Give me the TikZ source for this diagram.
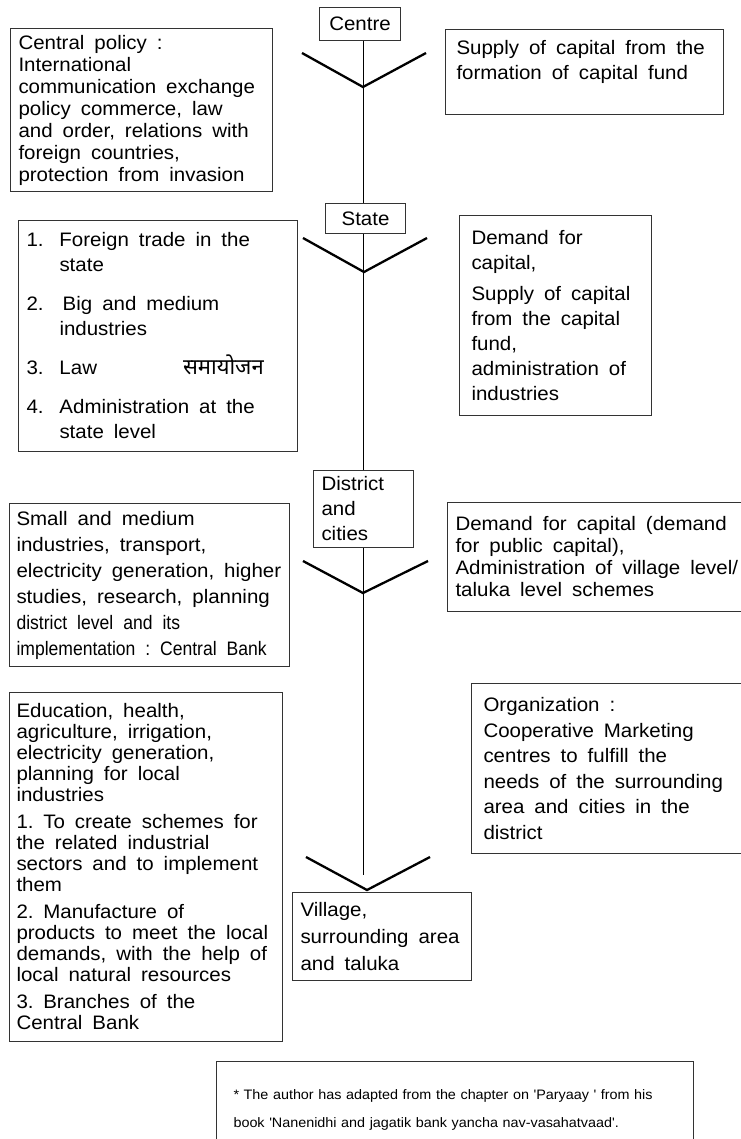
\documentclass[tikz,border=0pt]{standalone}
\usepackage{fontspec}
\setmainfont{Liberation Sans}[FakeStretch=1.05]
\newfontfamily\narrowfont{Liberation Sans}[FakeStretch=0.9]
\newfontfamily\devafont[Script=Devanagari]{Noto Sans}
\usepackage{tikz}
\usetikzlibrary{positioning, calc}
\newcommand{\itemno}[1]{\makebox[33pt][l]{#1}}
\newcommand{\hang}{\hspace*{33pt}}
\newcommand{\widesp}{\spaceskip=10pt plus 1pt minus 1pt\relax}

\begin{document}
\begin{tikzpicture}[x=1pt, y=-1pt,
    box/.style={draw=black!80, line width=1pt, fill=white, anchor=north west,
                inner xsep=8pt, inner ysep=0pt, align=left},
    lh/.style={font=\fontsize{19.5}{#1}\selectfont, execute at begin node=\widesp},
    spine/.style={line width=0.8pt},
    varm/.style={line width=2.3pt},
  ]

  \useasboundingbox (0,0) rectangle (740,1139);

  % --- points on the spine ---
  \coordinate (v1) at (363,87);
  \coordinate (v2) at (364,272);
  \coordinate (v3) at (363,593);
  \coordinate (v4) at (367,890);
  \coordinate (spineend) at (363,875);

  % --- Centre ---
  \node[box, lh=22, align=center, minimum width=81pt, minimum height=33pt] (centre) at (319,7) {Centre};
  \node[box, lh=22, text width=246pt, minimum height=163pt] (cpol) at (10,28)
    {Central policy :\\
     International\\
     communication exchange\\
     policy commerce, law\\
     and order, relations with\\
     foreign countries,\\
     protection from invasion};
  \node[box, lh=25, inner xsep=11pt, text width=256pt, minimum height=85pt] (ccap) at (445,29)
    {Supply of capital from the\\
     formation of capital fund\\
     \mbox{}};

  % --- State ---
  \node[box, lh=22, align=center, minimum width=80pt, minimum height=30pt] (state) at (325,203) {State};
  \node[box, lh=25, text width=263pt, minimum height=231pt] (spol) at (18,220)
    {\itemno{1.}Foreign trade in the\\ \hang state\\[14pt]
     \itemno{2.}\,Big and medium\\ \hang industries\\[14pt]
     \itemno{3.}Law\hspace*{86pt}{\devafont\fontsize{22}{25}\selectfont समायोजन}\\[14pt]
     \itemno{4.}Administration at the\\ \hang state level};
  \node[box, lh=25, inner xsep=12pt, text width=168pt, minimum height=200pt] (scap) at (459,215)
    {Demand for\\
     capital,\\[6pt]
     Supply of capital\\
     from the capital\\
     fund,\\
     administration of\\
     industries};

  % --- District and cities ---
  \node[box, lh=25, text width=84pt, minimum height=77pt] (district) at (313,470)
    {District\\ and\\ cities};
  \node[box, lh=26, inner xsep=7pt, text width=266pt, minimum height=163pt] (dpol) at (9,503)
    {Small and medium\\
     industries, transport,\\
     electricity generation, higher\\
     studies, research, planning\\
     {\narrowfont district level and its}\\
     {\narrowfont implementation : Central Bank}};
  \node[box, lh=22, text width=290pt, minimum height=109pt] (dcap) at (447,502)
    {Demand for capital (demand\\
     for public capital),\\
     Administration of village level/\\
     taluka level schemes};

  % --- Village ---
  \node[box, lh=21, inner xsep=7pt, text width=259pt, minimum height=349pt] (vpol) at (9,692)
    {Education, health,\\
     agriculture, irrigation,\\
     electricity generation,\\
     planning for local\\
     industries\\[6pt]
     1. To create schemes for\\
     the related industrial\\
     sectors and to implement\\
     them\\[6pt]
     2. Manufacture of\\
     products to meet the local\\
     demands, with the help of\\
     local natural resources\\[6pt]
     3. Branches of the\\
     Central Bank};
  \node[box, lh=25.5, inner xsep=12pt, text width=262pt, minimum height=170pt] (vorg) at (471,683)
    {Organization :\\
     Cooperative Marketing\\
     centres to fulfill the\\
     needs of the surrounding\\
     area and cities in the\\
     district};
  \node[box, lh=27, text width=163pt, minimum height=88pt] (village) at (292,892)
    {Village,\\ surrounding area\\ and taluka};

  % --- spine and the V marks ---
  \draw[spine] (v1 |- centre.south) -- (v1 |- state.north);
  \draw[spine] (v1 |- state.south) -- (v1 |- district.north);
  \draw[spine] (v1 |- district.south) -- (spineend);
  \draw[varm] ($(v1)+(-61,-34)$) -- (v1) -- ($(v1)+(63,-34)$);
  \draw[varm] ($(v2)+(-61,-34)$) -- (v2) -- ($(v2)+(63,-34)$);
  \draw[varm] ($(v3)+(-60,-32)$) -- (v3) -- ($(v3)+(65,-32)$);
  \draw[varm] ($(v4)+(-61,-33)$) -- (v4) -- ($(v4)+(63,-33)$);

  % --- footnote ---
  \node[box, font=\fontsize{13.7}{28}\selectfont, inner xsep=17pt, text width=443pt, minimum height=96pt] (note) at (216,1061)
    {\makebox[443pt][s]{* The author has adapted from the chapter on \textquotesingle Paryaay \textquotesingle{} from his}\\
     book \textquotesingle Nanenidhi and jagatik bank yancha nav-vasahatvaad\textquotesingle.};

\end{tikzpicture}
\end{document}
